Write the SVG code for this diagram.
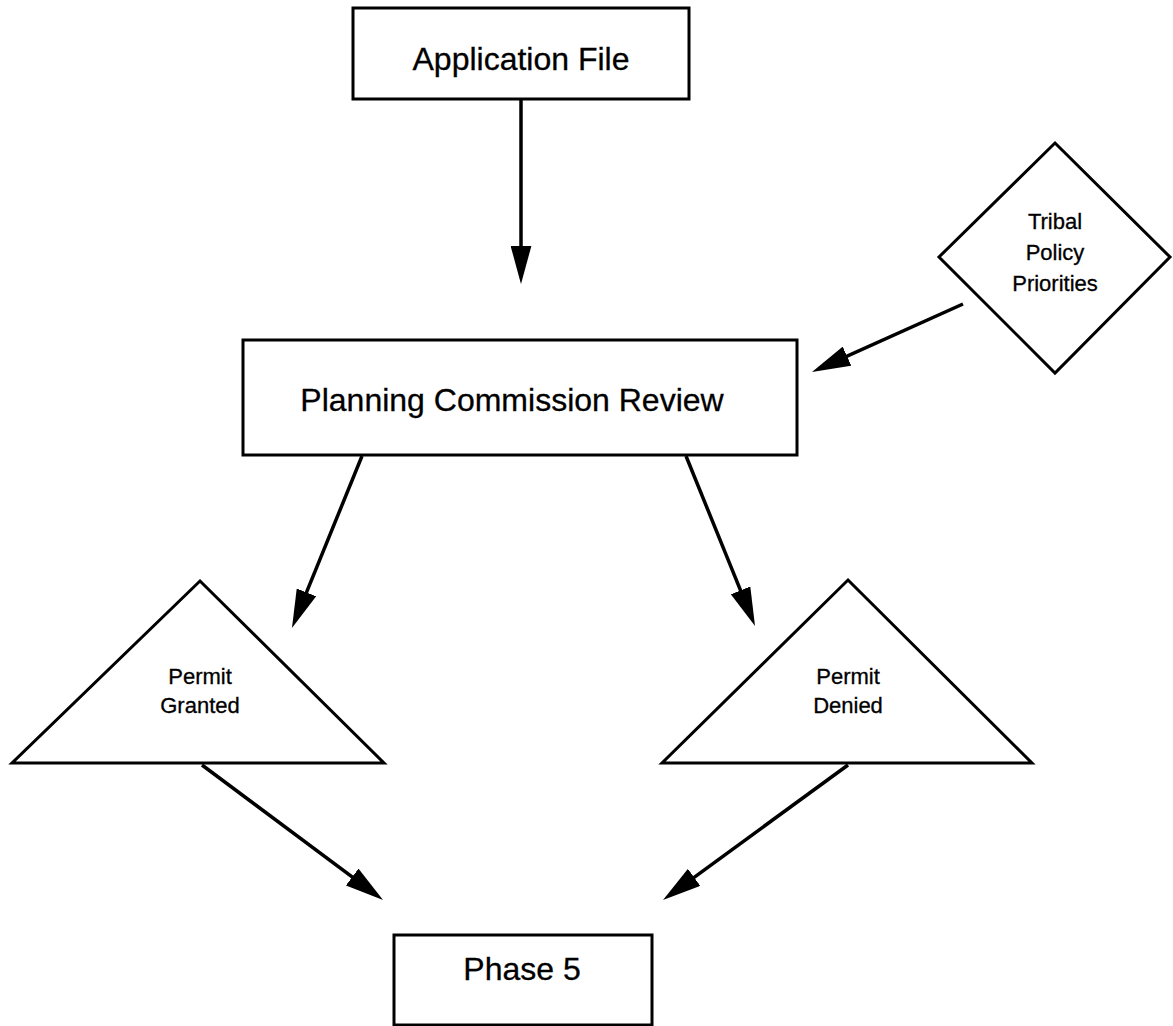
<svg xmlns="http://www.w3.org/2000/svg" width="1173" height="1026" viewBox="0 0 1173 1026">
<style>
.shape{fill:#fff;stroke:#000;stroke-width:3}
.lbl{font-family:"Liberation Sans",Arial,sans-serif;fill:#000;text-anchor:middle;stroke:#000;stroke-width:0.3}
.big{font-size:32px}
.small{font-size:22px}
.edge{stroke:#000;stroke-width:3.5;fill:none;marker-end:url(#ah)}
</style>
<defs>
<marker id="ah" markerWidth="11" markerHeight="6" refX="8.7" refY="3" orient="auto" markerUnits="strokeWidth">
<path d="M0,0 L11,3 L0,6 Z" fill="#000"/>
</marker>
</defs>
<rect width="1173" height="1026" fill="#fff"/>
<g id="connectors">
<line class="edge" x1="521" y1="99" x2="521" y2="276"/>
<line class="edge" x1="963" y1="304" x2="819.3" y2="368.7"/>
<line class="edge" x1="362" y1="456" x2="295" y2="620.6"/>
<line class="edge" x1="686" y1="456" x2="752" y2="618.6"/>
<line class="edge" x1="202" y1="765" x2="376.6" y2="895.2"/>
<line class="edge" x1="848" y1="765" x2="669.5" y2="895.3"/>
</g>
<g id="application-file">
<rect class="shape" x="353" y="8" width="336" height="91"/>
<text class="lbl big" x="521" y="70">Application File</text>
</g>
<g id="tribal-policy">
<polygon class="shape" points="1055,143 1170,257 1055,373 939,257"/>
<text class="lbl small" x="1055" y="229">Tribal</text>
<text class="lbl small" x="1055" y="260">Policy</text>
<text class="lbl small" x="1055" y="291">Priorities</text>
</g>
<g id="planning-review">
<rect class="shape" x="243" y="340" width="554" height="115"/>
<text class="lbl big" x="512" y="411">Planning Commission Review</text>
</g>
<g id="permit-granted">
<polygon class="shape" points="200,581 384,763 12,763"/>
<text class="lbl small" x="200" y="684">Permit</text>
<text class="lbl small" x="200" y="713">Granted</text>
</g>
<g id="permit-denied">
<polygon class="shape" points="848,580 1032,763 662,763"/>
<text class="lbl small" x="848" y="684">Permit</text>
<text class="lbl small" x="848" y="713">Denied</text>
</g>
<g id="phase-5">
<rect class="shape" x="394" y="935" width="258" height="90"/>
<text class="lbl big" x="522" y="980">Phase 5</text>
</g>
</svg>
